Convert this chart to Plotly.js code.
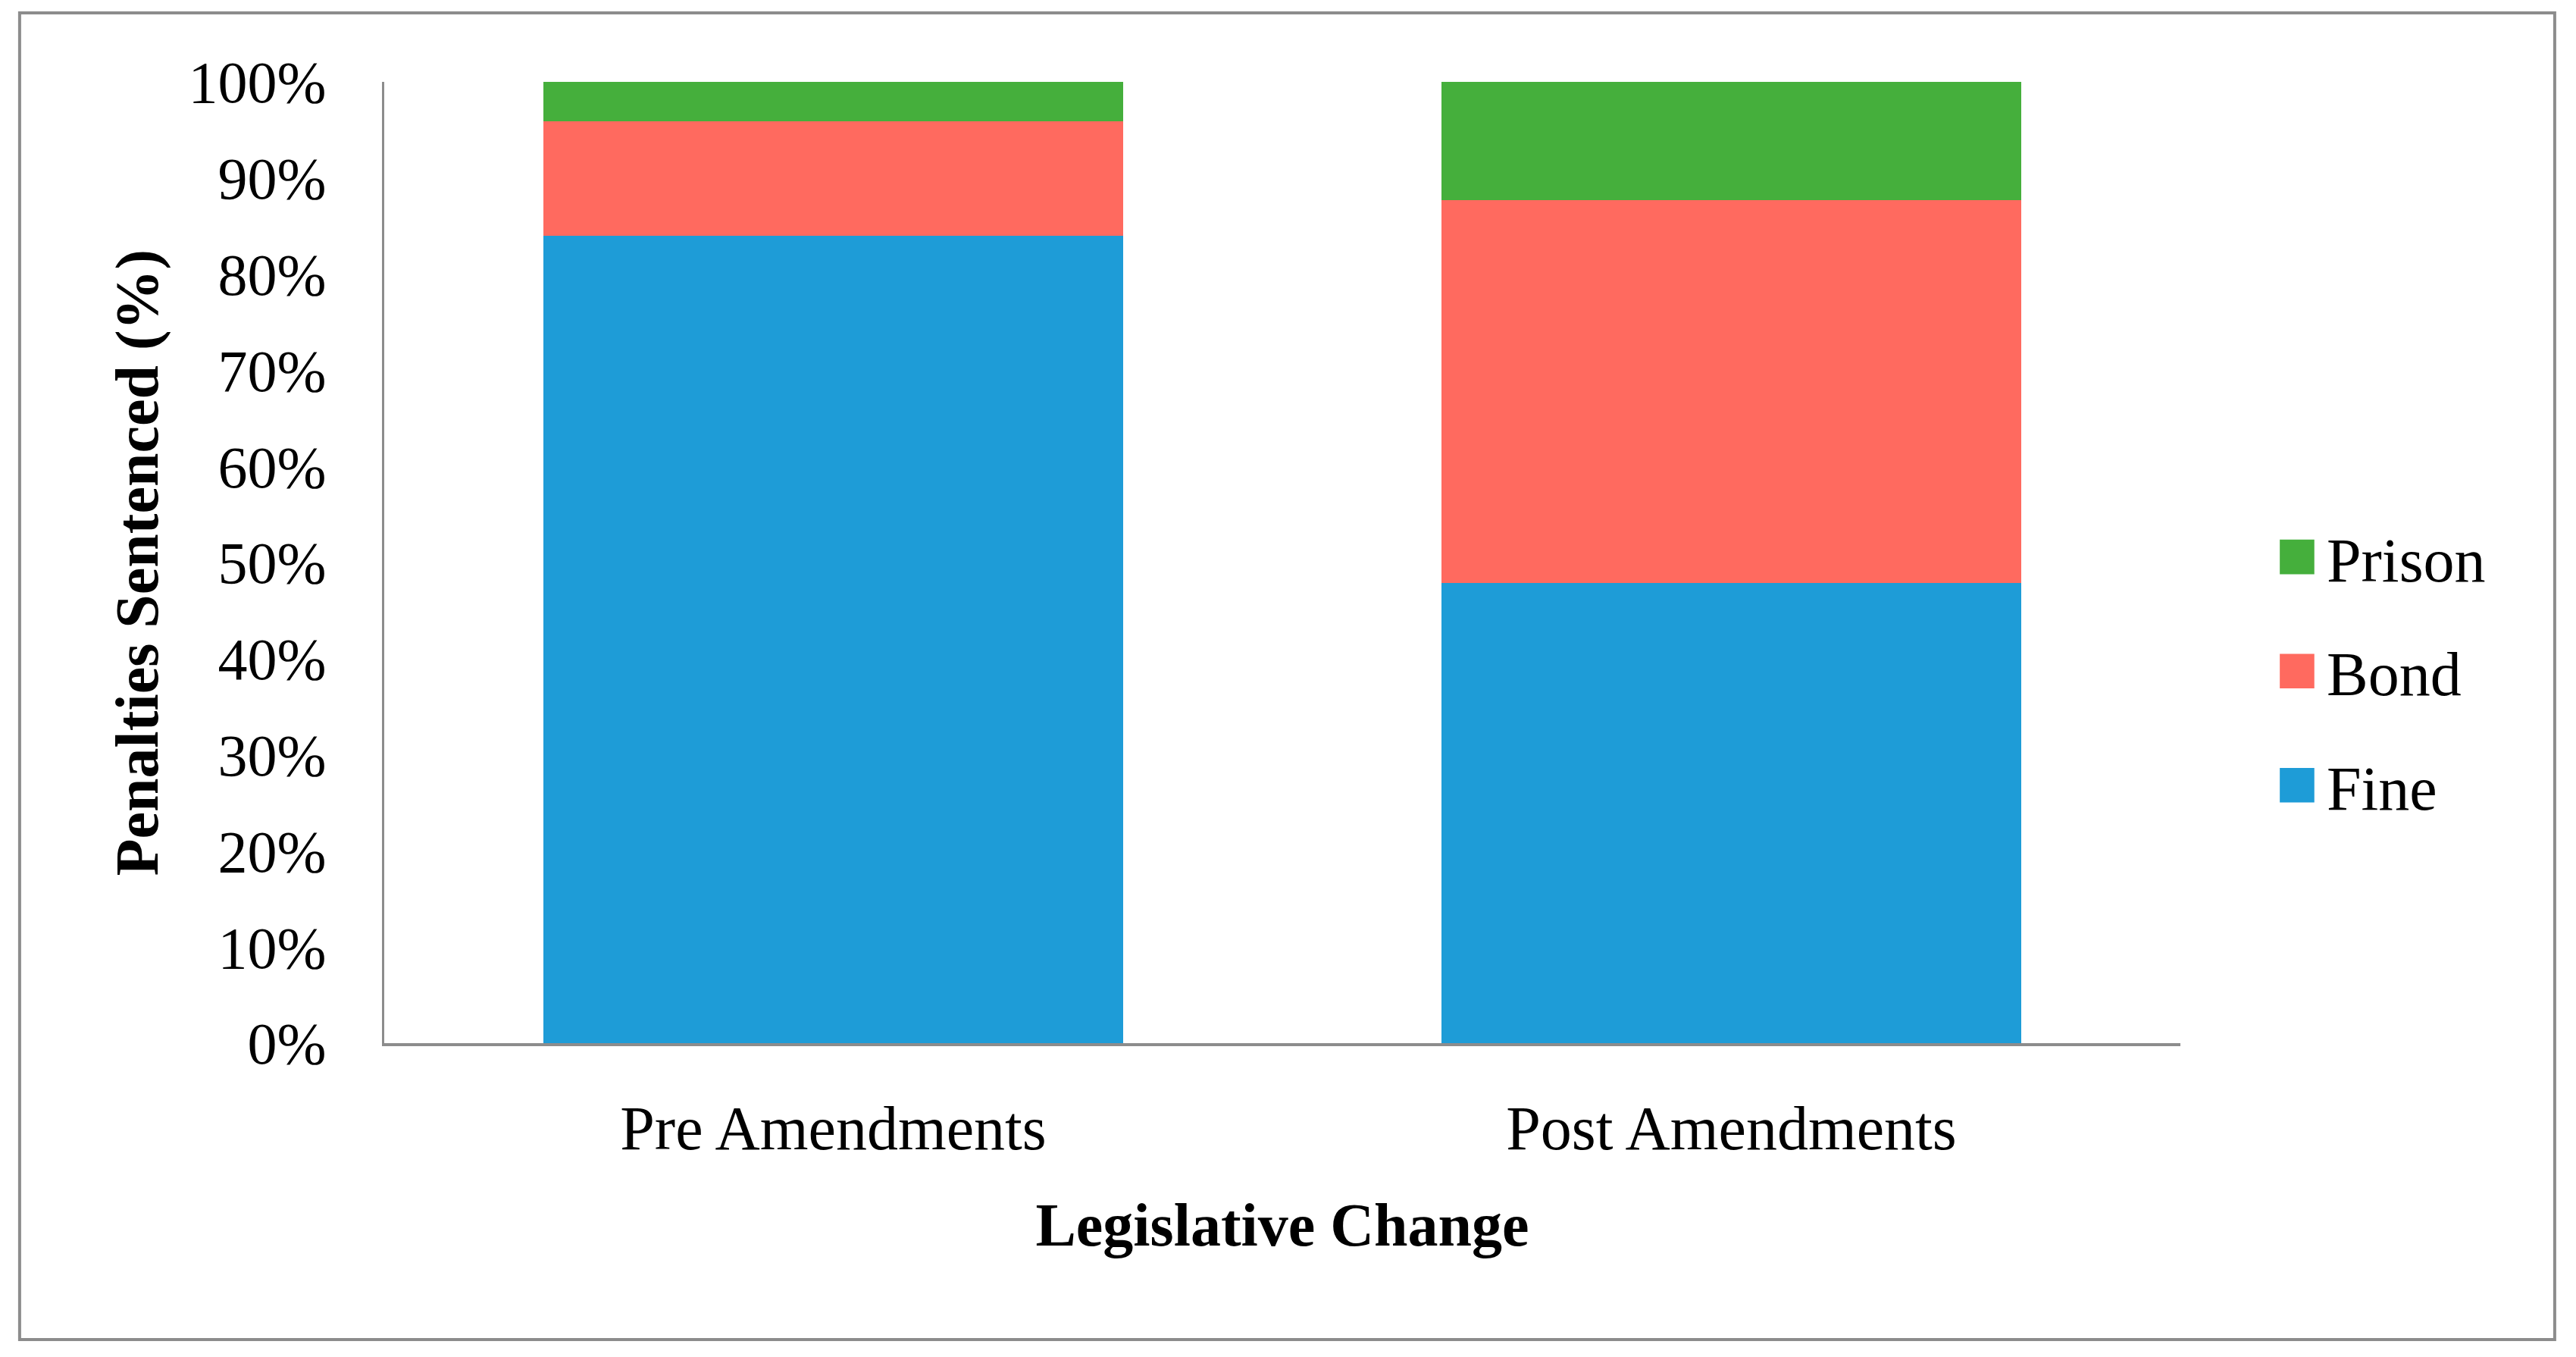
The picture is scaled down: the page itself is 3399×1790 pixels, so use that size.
<!DOCTYPE html>
<html>
<head>
<meta charset="utf-8">
<script src="https://cdn.plot.ly/plotly-3.0.1.min.js"></script>
<style>
  html, body { margin: 0; padding: 0; background: #ffffff; }
  #chart { width: 3399px; height: 1790px; }
</style>
</head>
<body>
<div id="chart"></div>
<script>
// values, percent of penalties sentenced
const categories = ['Pre Amendments', 'Post Amendments'];
const fine = [84.0, 47.9];
const bond = [11.9, 39.8];
const prison = [4.1, 12.3];

const yTicks = [0, 10, 20, 30, 40, 50, 60, 70, 80, 90, 100];
const yTickLabels = yTicks.map(v => v + '%');

const FONT = '"Palatino Linotype", "Book Antiqua", Palatino, "Liberation Serif", serif';
const AXIS_GREY = '#8c8c8c';

// rank puts Prison on top of the legend, like the stack
const series = [
    { name: 'Fine', y: fine, color: '#1e9cd7', rank: 3 },
    { name: 'Bond', y: bond, color: '#ff6a5f', rank: 2 },
    { name: 'Prison', y: prison, color: '#45af3c', rank: 1 },
];

const traces = series.map(s => ({
    type: 'bar',
    name: s.name,
    x: categories,
    y: s.y,
    marker: { color: s.color, line: { width: 0 } },
    hoverinfo: 'skip',
    legendgroup: s.name,
    legendrank: s.rank,
}));

const layout = {
    width: 3399,
    height: 1790,
    margin: { l: 507, r: 522, t: 108, b: 414 },
    paper_bgcolor: '#ffffff',
    plot_bgcolor: '#ffffff',
    font: { family: FONT, size: 78, color: '#000000' },
    barmode: 'stack',
    bargap: 0.354,
    showlegend: true,
    legend: {
        traceorder: 'grouped',
        tracegroupgap: 41,
        x: 1.0485,
        xanchor: 'left',
        y: 0.387,
        yanchor: 'middle',
        itemwidth: 68,
        font: { family: FONT, size: 82, color: '#000000' },
        bgcolor: 'rgba(0,0,0,0)',
        borderwidth: 0,
    },
    xaxis: {
        type: 'category',
        showgrid: false,
        zeroline: false,
        showline: true,
        linecolor: AXIS_GREY,
        linewidth: 4,
        ticks: '',
        ticklabelstandoff: 38,
        tickfont: { family: FONT, size: 82 },
        title: {
            text: '<b>Legislative Change</b>',
            font: { family: FONT, size: 80 },
            standoff: 55,
        },
    },
    yaxis: {
        range: [0, 100],
        tickvals: yTicks,
        ticktext: yTickLabels,
        showgrid: false,
        zeroline: false,
        showline: true,
        linecolor: AXIS_GREY,
        linewidth: 3,
        ticks: '',
        ticklabelstandoff: 58,
        tickfont: { family: FONT, size: 78 },
        title: {
            text: '<b>Penalties Sentenced (%)</b>',
            font: { family: FONT, size: 80 },
            standoff: 14,
        },
    },
    shapes: [
        {
            // outer frame round the whole figure
            type: 'rect',
            xref: 'paper',
            yref: 'paper',
            x0: -0.203, x1: 1.2084,
            y0: -0.3084, y1: 1.0718,
            line: { color: AXIS_GREY, width: 4 },
            fillcolor: 'rgba(0,0,0,0)',
            layer: 'below',
        },
    ],
};

const config = { displayModeBar: false, responsive: false, staticPlot: true };

// legend swatches are fixed 12px squares in plotly; blow them up to match
function growLegendSwatches() {
    document.querySelectorAll('#chart .legendpoints path').forEach(p => {
        const base = p.getAttribute('data-base-transform') ?? (p.getAttribute('transform') || '');
        p.setAttribute('data-base-transform', base);
        p.setAttribute('transform', base + ' scale(3.8)');
    });
}

Plotly.newPlot('chart', traces, layout, config).then(growLegendSwatches);
</script>
</body>
</html>
